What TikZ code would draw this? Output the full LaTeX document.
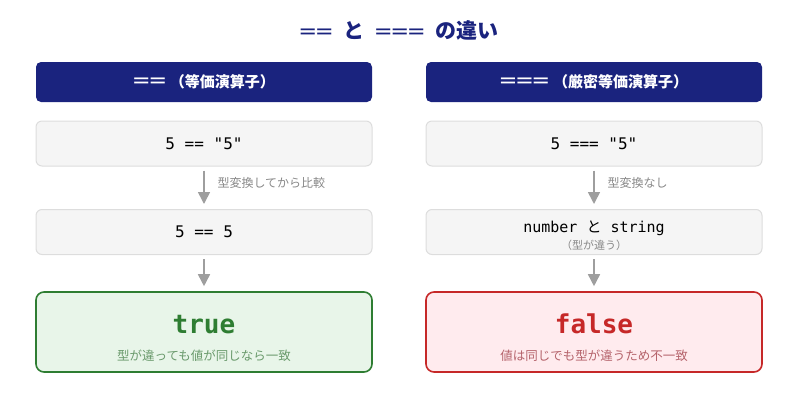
\documentclass[tikz,border=0pt]{standalone}
\usepackage{fontspec}
\usepackage{xcolor}
\usepackage{graphicx}
\setmainfont{Noto Sans CJK JP}
\setmonofont{DejaVu Sans Mono}
\usetikzlibrary{arrows.meta}

\definecolor{navy}{HTML}{1A237E}
\definecolor{boxgray}{HTML}{F5F5F5}
\definecolor{linegray}{HTML}{DDDDDD}
\definecolor{arrowgray}{HTML}{9E9E9E}
\definecolor{labelgray}{HTML}{888888}
\definecolor{okgreen}{HTML}{2E7D32}
\definecolor{okfill}{HTML}{E8F5E9}
\definecolor{oktext}{HTML}{6A9A6C}
\definecolor{ngred}{HTML}{C62828}
\definecolor{ngfill}{HTML}{FFEBEE}
\definecolor{ngtext}{HTML}{B5636B}

\newcommand{\opsign}[1]{\scalebox{1.3}[1]{\fontsize{21}{21}\selectfont\ttfamily\mdseries #1}}

\begin{document}
\begin{tikzpicture}[x=1pt, y=-1pt,
    header/.style={rectangle, rounded corners=5pt, fill=navy, text=white,
        minimum width=336pt, minimum height=40pt, font=\fontsize{15}{18}\selectfont\bfseries},
    codebox/.style={rectangle, rounded corners=6pt, fill=boxgray, draw=linegray, line width=1pt,
        minimum width=336pt, minimum height=45pt, font=\fontsize{16}{18}\selectfont\ttfamily},
    result/.style={rectangle, rounded corners=8pt, line width=1.6pt,
        minimum width=336pt, minimum height=80pt, align=center,
        font=\fontsize{26}{27}\selectfont},
    flow/.style={draw=arrowgray, line width=1.6pt, shorten <=4pt, shorten >=5pt,
        -{Triangle[length=12pt, width=12pt]}},
    note/.style={font=\fontsize{12}{14}\selectfont, text=labelgray, anchor=west}]
    \useasboundingbox (0,0) rectangle (798,408);

    \node[text=navy, font=\fontsize{21}{24}\selectfont\bfseries] (title) at (399,30)
        {\opsign{==}\hspace{6pt} と \hspace{6pt}\opsign{===}\hspace{6pt} の違い};

    % left column
    \node[header] (eqhead) at (204,82) {\opsign{==}\hspace{4pt}（等価演算子）};
    \node[codebox] (eqa) at (204,143.5) {5 == "5"};
    \node[codebox] (eqb) at (204,232) {5 == 5};
    \node[result, fill=okfill, draw=okgreen] (eqres) at (204,332)
        {\rule{0pt}{32pt}{\ttfamily\bfseries\color{okgreen}true}\\
         {\fontsize{12.5}{14}\selectfont\color{oktext}型が違っても値が同じなら一致}};

    \draw[flow] (eqa) -- (eqb);
    \draw[flow] (eqb) -- (eqres);
    \node[note] (eqnote) at (214,183) {型変換してから比較};

    % right column
    \node[header] (sthead) at (594,82) {\opsign{===}\hspace{4pt}（厳密等価演算子）};
    \node[codebox] (sta) at (594,143.5) {5 === "5"};
    \node[codebox, align=center, font=\fontsize{15}{17}\selectfont\ttfamily] (stb) at (594,232)
        {\rule{0pt}{19pt}number {\rmfamily と} string\\
         {\rmfamily\fontsize{11}{13}\selectfont\color{labelgray}（型が違う）}};
    \node[result, fill=ngfill, draw=ngred] (stres) at (594,332)
        {\rule{0pt}{32pt}{\ttfamily\bfseries\color{ngred}false}\\
         {\fontsize{12.5}{14}\selectfont\color{ngtext}値は同じでも型が違うため不一致}};

    \draw[flow] (sta) -- (stb);
    \draw[flow] (stb) -- (stres);
    \node[note] (stnote) at (604,183) {型変換なし};
\end{tikzpicture}
\end{document}
